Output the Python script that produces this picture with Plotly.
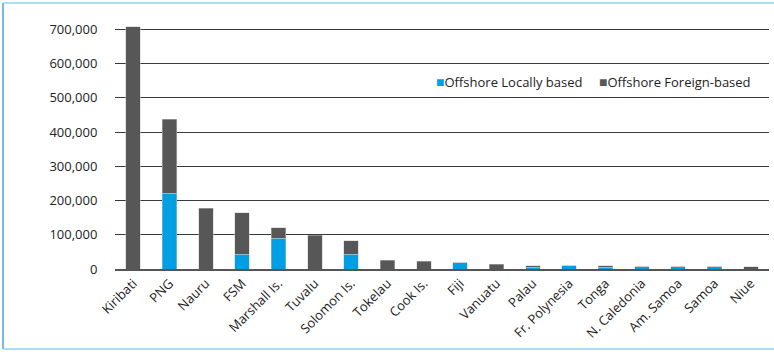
import plotly.graph_objects as go

# Offshore catch by country, split into locally based and foreign-based fleets
countries = [
    "Kiribati", "PNG", "Nauru", "FSM", "Marshall Is.", "Tuvalu", "Solomon Is.",
    "Tokelau", "Cook Is.", "Fiji", "Vanuatu", "Palau", "Fr. Polynesia", "Tonga",
    "N. Caledonia", "Am. Samoa", "Samoa", "Niue",
]
locally_based = [
    0, 222000, 0, 43000, 90000, 0, 43000,
    0, 0, 18000, 0, 5000, 10000, 5000,
    6000, 6000, 6000, 0,
]
foreign_based = [
    708000, 216000, 178000, 122000, 30000, 98000, 39000,
    26000, 22000, 0, 14500, 4500, 0, 5000,
    0, 0, 0, 6000,
]
y_ticks = [0, 100000, 200000, 300000, 400000, 500000, 600000, 700000]

BLUE = "#009fe3"
GREY = "#575757"
FONT = "Open Sans"
TEXT = "#222"

series = [("Offshore Locally based", locally_based, BLUE),
          ("Offshore Foreign-based", foreign_based, GREY)]

fig = go.Figure()
for name, vals, col in series:
    fig.add_trace(go.Bar(
        x=countries, y=vals, name=name, showlegend=False,
        marker=dict(color=col, line=dict(color="rgba(200,200,200,0.8)", width=0.6)),
    ))

# figure geometry (pixels)
L, R, T, B = 115, 5, 26, 90
W, H = 774, 359
pw, ph = W - L - R, H - T - B
def px_x(p):
    return (p - L) / pw
def px_y(p):
    return (H - B - p) / ph

# compact legend: coloured square followed by the series name
legend_x = [434, 597]
annotations = [
    dict(xref="paper", yref="paper", x=px_x(lx), y=px_y(81),
         xanchor="left", yanchor="middle", showarrow=False,
         text=f"<span style='color:{col};font-size:14px'>■</span>{name}",
         font=dict(family=FONT, size=13, color=TEXT))
    for lx, (name, _, col) in zip(legend_x, series)
]

fig.update_layout(
    width=W, height=H,
    margin=dict(l=L, r=R, t=T, b=B),
    paper_bgcolor="white", plot_bgcolor="white",
    barmode="stack", bargap=0.6,
    font=dict(family=FONT, size=13, color=TEXT),
    showlegend=False,
    annotations=annotations,
    xaxis=dict(
        type="category", tickangle=-45, showgrid=False,
        showline=True, linecolor="#555", linewidth=1.5,
        ticks="", tickfont=dict(family=FONT, size=13, color=TEXT),
    ),
    yaxis=dict(
        range=[0, 710000], tickvals=y_ticks, tickformat=",",
        showgrid=True, gridcolor="#3a3a3a", gridwidth=1,
        zeroline=False, showline=False,
        ticks="outside", ticklen=14, tickcolor="rgba(0,0,0,0)",
        tickfont=dict(family=FONT, size=13, color=TEXT),
    ),
    shapes=[
        dict(type="line", xref="paper", yref="paper", x0=px_x(3), x1=px_x(3),
             y0=px_y(3), y1=px_y(349), line=dict(color="#4aa3d6", width=1.5)),
        dict(type="line", xref="paper", yref="paper", x0=px_x(3), x1=px_x(790),
             y0=px_y(3), y1=px_y(3), line=dict(color="#8dd3f0", width=1.5)),
        dict(type="line", xref="paper", yref="paper", x0=px_x(3), x1=px_x(790),
             y0=px_y(349), y1=px_y(349), line=dict(color="#8dd3f0", width=1.5)),
    ],
)

fig.write_html("out.html")
